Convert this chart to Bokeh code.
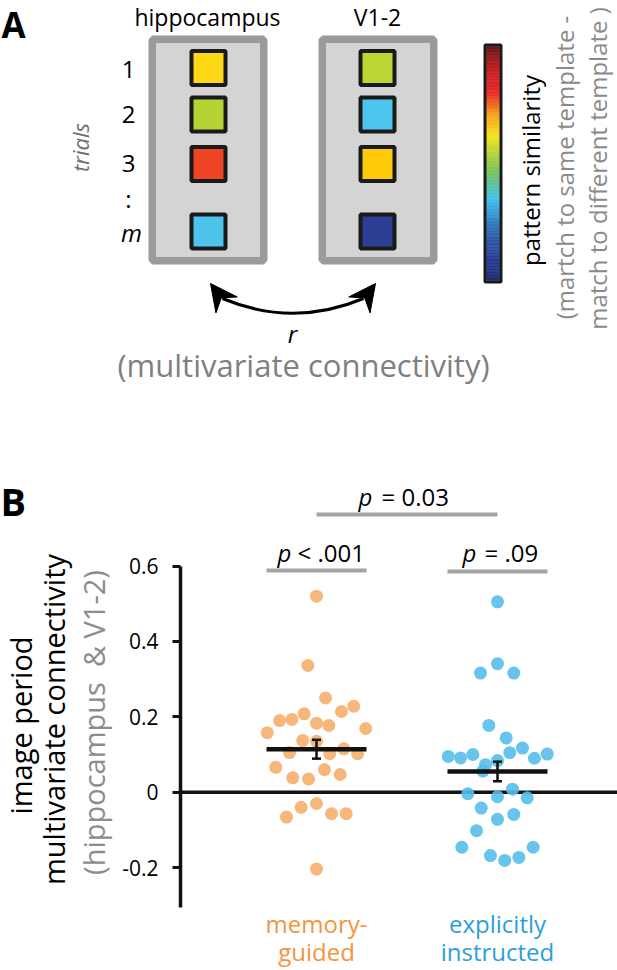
import numpy as np
from bokeh.plotting import figure
from bokeh.models import (Range1d, LinearAxis, Whisker, TeeHead, ColumnDataSource,
                          FixedTicker)
from bokeh.embed import file_html
from bokeh.resources import INLINE
from bokeh.core.properties import value

FONT = "Open Sans"

# ---------------- data: panel A (schematic) ----------------
region_names = ["hippocampus", "V1-2"]
trial_labels = ["1", "2", "3", ":", "m"]
hippocampus_colors = ["#FED816", "#B6D334", "#EE4423", "#4DC4EC"]
v12_colors = ["#BCD532", "#4EC5EC", "#FECA0A", "#2D3F95"]
colorbar_stops = [0.0, 0.1, 0.22, 0.345, 0.47, 0.617, 0.71, 0.8, 0.9, 1.0]
colorbar_colors = ["#1F2A6E", "#2A3F99", "#2E6DB5", "#3EC1EC", "#7CC25A",
                   "#F5E61A", "#F7A21C", "#EC2A26", "#C41E24", "#6E1517"]

# ---------------- data: panel B ----------------
group_line1 = ["memory-", "explicitly"]
group_line2 = ["guided", "instructed"]
group_text_colors = ["#F39440", "#2C9FDA"]
group_dot_colors = ["#F7B16F", "#56BEEA"]

memory_vals = [0.52, 0.336, 0.25, 0.228, 0.214, 0.208, 0.193, 0.19, 0.183, 0.177,
               0.158, 0.169, 0.137, 0.135, 0.105, 0.102, 0.115, 0.102, 0.066, 0.06,
               0.047, 0.038, 0.035, -0.03, -0.04, -0.057, -0.057, -0.066, -0.204]
memory_jitter = [0.0, -0.048, 0.050, 0.206, 0.138, -0.068, -0.136, -0.204, 0.0, 0.068,
                 -0.272, 0.272, -0.076, 0.0, -0.149, 0.073, 0.151, 0.227, -0.225, 0.044,
                 0.131, -0.131, -0.044, 0.0, -0.085, 0.083, 0.164, -0.166, 0.0]
explicit_vals = [0.505, 0.341, 0.316, 0.316, 0.177, 0.144, 0.095, 0.091, 0.1, 0.105,
                 0.117, 0.09, 0.101, 0.073, 0.084, 0.056, -0.004, -0.012, 0.008, -0.015,
                 -0.042, -0.059, -0.072, -0.102, -0.146, -0.168, -0.181, -0.173, -0.146]
explicit_jitter = [0.0, 0.0, -0.094, 0.090, -0.048, 0.048, -0.272, -0.204, -0.136, 0.068,
                   0.138, 0.204, 0.275, -0.066, 0.0, -0.081, -0.164, 0.0, 0.083, 0.164,
                   -0.090, 0.090, 0.0, -0.116, -0.197, -0.039, 0.040, 0.118, 0.197]
group_means = [0.114, 0.055]
group_sems = [0.025, 0.026]
within_p = ["< .001", "= .09"]
between_p = "= 0.03"
y_ticks = [-0.2, 0.0, 0.2, 0.4, 0.6]
y_tick_labels = ["-0.2", "0", "0.2", "0.4", "0.6"]

# ---------------- page geometry (screen px) ----------------
W, H = 617, 970
CAT_PX = (316.0, 497.0)      # screen x of the two groups
AXIS_PX = 180.0              # screen x of the y axis
ZERO_PY, PX_PER_UNIT = 791.7, 377.0
ux = CAT_PX[1] - CAT_PX[0]
MID = 0.388                  # baseline -> em-box middle, in em


def bx(px):
    return 1 + (px - CAT_PX[0]) / ux


def by(py):
    return (ZERO_PY - py) / PX_PER_UNIT


p = figure(width=W, height=H,
           x_range=Range1d(bx(0), bx(W)), y_range=Range1d(by(H), by(0)),
           output_backend="svg", toolbar_location=None, min_border=0,
           x_axis_location=None, y_axis_location=None)
p.extra_x_ranges = {"px": Range1d(0, W)}
p.extra_y_ranges = {"px": Range1d(-H, 0)}
p.grid.visible = False
p.outline_line_color = None
PX = dict(x_range_name="px", y_range_name="px")


def ta(x, y, s, size, color="black", style="normal", align="center", rot=False):
    """x, y: screen px of the text baseline (rot: x is the baseline, text reads upward)."""
    if rot:
        x = x - MID * size
    else:
        y = y - MID * size
    p.text(x=[x], y=[-y], text=[s], text_font=value(FONT), text_font_size=f"{size}px",
           text_color=color, text_font_style=style, text_align=align,
           text_baseline="middle", angle=np.pi / 2 if rot else 0.0, **PX)


# ====================== PANEL A ======================
ta(1, 38, "A", 35, style="bold", align="left")

p.rect(x=[207.5, 377.5], y=[-149.5, -149.5], width=111.5, height=221.5,
       fill_color="#D4D4D4", line_color="#9B9B9B", line_width=7.5, **PX)
for cx, name in zip([207, 377], region_names):
    ta(cx, 25, name, 23)

sq_y = [67.5, 114, 163.5, 231]
for cx, cols in zip([208, 377], [hippocampus_colors, v12_colors]):
    p.rect(x=[cx] * 4, y=[-v for v in sq_y], width=34, height=34,
           fill_color=cols, line_color="#1A1A1A", line_width=4, **PX)

lab_y = [78, 123.5, 172, 207, 241]
for s, yy in zip(trial_labels, lab_y):
    ta(131 if s == "m" else 128, yy, s, 24, style="italic" if s == "m" else "normal")
ta(88, 147, "trials", 22, color="#6F6F6F", style="italic", rot=True)


def hex2rgb(h):
    h = h.lstrip("#")
    return [int(h[i:i + 2], 16) for i in (0, 2, 4)]


n = 160
t = (np.arange(n) + 0.5) / n
rgb = np.array([hex2rgb(c) for c in colorbar_colors], dtype=float)
cols = []
for tt in t:
    r, g, b = (np.interp(tt, colorbar_stops, rgb[:, k]) for k in range(3))
    cols.append("#%02X%02X%02X" % (int(r), int(g), int(b)))
edges = np.linspace(280, 46, n + 1)
p.quad(left=486, right=499, bottom=-edges[:-1], top=-edges[1:],
       fill_color=cols, line_color=cols, line_width=0.6, **PX)
p.rect(x=[492.5], y=[-163], width=16, height=237, fill_color=None,
       line_color="#1A1A1A", line_width=3, **PX)

ta(539, 170, "pattern similarity", 24, rot=True)
ta(573, 167, "(martch to same template -", 24, color="#8A8A8A", rot=True)
ta(606, 168, "match to different template )", 24, color="#8A8A8A", rot=True)

# double-headed curved arrow
p.quadratic(x0=[222], y0=[-298], x1=[363], y1=[-298], cx=[292.5], cy=[-327.4],
            line_width=3, line_color="black", **PX)


def arrowhead(tip, d, L=26.8, Wd=13.3, notch=18):
    d = np.array(d, float)
    d /= np.hypot(*d)
    nrm = np.array([-d[1], d[0]])
    T = np.array(tip, float)
    base = T - L * d
    pts = [T, base + Wd * nrm, T - notch * d, base - Wd * nrm]
    return [q[0] for q in pts], [-q[1] for q in pts]


axs, ays = [], []
for tip, d in [((210, 283), (-0.6, -0.8)), ((375, 283), (0.6, -0.8))]:
    xx, yy = arrowhead(tip, d)
    axs.append(xx)
    ays.append(yy)
p.patches(xs=axs, ys=ays, fill_color="black", line_color="black", line_width=1, **PX)

ta(292, 342, "r", 24, style="italic")
ta(303, 377, "(multivariate connectivity)", 31, color="#808080")

# ====================== PANEL B ======================
ta(0, 515, "B", 38, style="bold", align="left")
ta(31, 725, "image period", 29, rot=True)
ta(64, 719, "multivariate connectivity", 29, rot=True)
ta(104, 722, "(hippocampus\u00a0 & V1-2)", 29, color="#8C8C8C", rot=True)

yax = LinearAxis(fixed_location=bx(AXIS_PX), ticker=FixedTicker(ticks=y_ticks))
yax.major_label_overrides = {float(k): v for k, v in zip(y_ticks, y_tick_labels)}
yax.bounds = (-0.305, 0.6)
yax.axis_line_width = 3.5
yax.axis_line_color = "#111111"
yax.major_tick_line_width = 3
yax.major_tick_line_color = "#111111"
yax.major_tick_out = 8
yax.major_tick_in = 0
yax.minor_tick_out = 0
yax.minor_tick_in = 0
yax.major_label_standoff = 14
yax.major_label_text_font = FONT
yax.major_label_text_font_size = "21px"
yax.major_label_text_color = "black"
p.add_layout(yax, "left")

# zero reference line from the axis to the right edge
p.segment(x0=[bx(AXIS_PX)], x1=[bx(W)], y0=[0], y1=[0],
          line_color="#111111", line_width=3.5)

mx = [1 + j for j in memory_jitter]
ex = [2 + j for j in explicit_jitter]
p.scatter(x=mx, y=memory_vals, size=13, fill_color=group_dot_colors[0],
          line_color=None, fill_alpha=0.92)
p.scatter(x=ex, y=explicit_vals, size=13, fill_color=group_dot_colors[1],
          line_color=None, fill_alpha=0.9)

cats = [1, 2]
HALF = 50 / ux
p.segment(x0=[c - HALF for c in cats], x1=[c + HALF for c in cats],
          y0=group_means, y1=group_means, line_color="#111111", line_width=4.5)
wsrc = ColumnDataSource(dict(base=cats,
                             upper=[m + s for m, s in zip(group_means, group_sems)],
                             lower=[m - s for m, s in zip(group_means, group_sems)]))
wh = Whisker(source=wsrc, base="base", upper="upper", lower="lower",
             line_color="#111111", line_width=2.5, level="overlay",
             upper_head=TeeHead(size=9, line_width=2.5, line_color="#111111"),
             lower_head=TeeHead(size=9, line_width=2.5, line_color="#111111"))
p.add_layout(wh)

PGRAY = "#A6A4A4"
p.segment(x0=[1 - HALF, 2 - HALF, 1], x1=[1 + HALF, 2 + HALF, 2],
          y0=[by(570), by(571), by(514)], y1=[by(570), by(571), by(514)],
          line_color=PGRAY, line_width=4)


def pt(x, py, s, xoff, size=24, style="normal", color="black", align="left"):
    """x: data x; py: screen px of the baseline; xoff: px offset."""
    p.text(x=[x], y=[by(py - MID * size)], text=[s], x_offset=xoff,
           text_font=value(FONT), text_font_size=f"{size}px", text_font_style=style,
           text_color=color, text_align=align, text_baseline="middle")


pt(1.5, 505, "p", (bx(358) - 1.5) * ux, style="italic")
pt(1.5, 505, between_p, (bx(381) - 1.5) * ux)
pt(1, 561, "p", -39, style="italic")
pt(1, 561, within_p[0], -19)
pt(2, 561, "p", -35, style="italic")
pt(2, 561, within_p[1], -13)

for c, l1, l2, col in zip(cats, group_line1, group_line2, group_text_colors):
    pt(c, 932, l1, 0, color=col, align="center")
    pt(c, 960, l2, 0, color=col, align="center")

open("out.html", "w").write(file_html(p, INLINE))
